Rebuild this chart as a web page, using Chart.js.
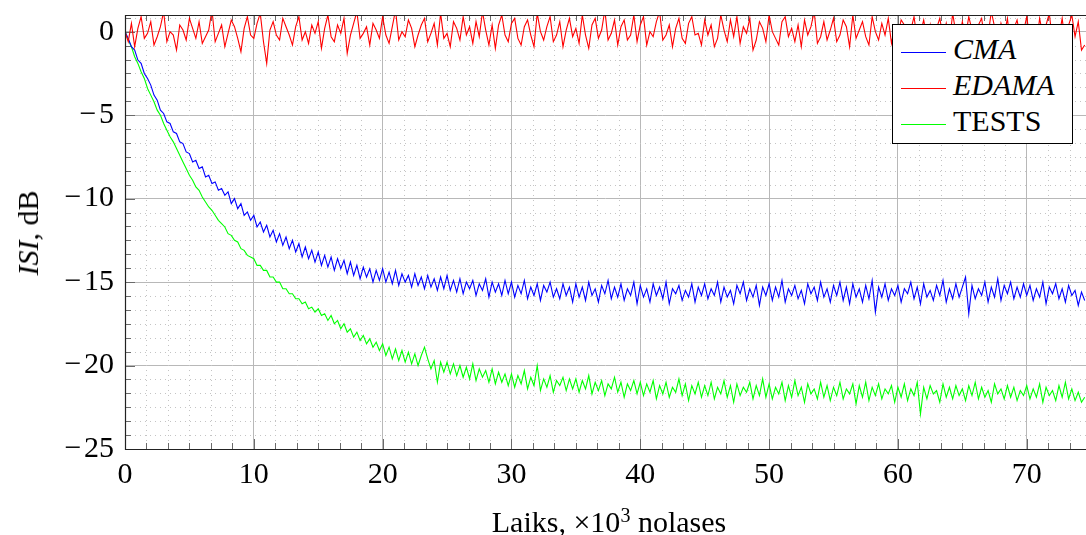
<!DOCTYPE html>
<html>
<head>
<meta charset="utf-8">
<script src="https://cdn.jsdelivr.net/npm/chart.js@4.4.0/dist/chart.umd.min.js"></script>
<style>
  html, body { margin: 0; padding: 0; background: #fff; }
  #wrap { position: relative; width: 1086px; height: 535px; overflow: hidden; font-family: "Liberation Serif", "Times New Roman", serif; color: #000; }
  #chart { position: absolute; left: 0; top: 0; }
  .legend { position: absolute; left: 892px; top: 24px; width: 181px; height: 120px; background: #fff; border: 1px solid #000; box-sizing: border-box; font-size: 30px; }
  .legend .row { position: absolute; left: 8px; height: 36px; line-height: 36px; white-space: nowrap; }
  .legend .ln { display: inline-block; width: 45px; height: 0; border-top: 1px solid; vertical-align: middle; margin-right: 7px; }
  .ylab { position: absolute; left: 28px; top: 233px; transform: translate(-50%, -50%) rotate(-90deg); font-size: 30px; line-height: 32px; white-space: nowrap; }
  .xlab { position: absolute; left: 609px; top: 507px; transform: translateX(-50%); font-size: 30px; line-height: 30px; white-space: nowrap; }
  .xlab sup { font-size: 20px; vertical-align: 10px; line-height: 0; }
</style>
</head>
<body>
<div id="wrap">
  <canvas id="chart" width="1086" height="535"></canvas>
  <div class="legend">
    <div class="row" style="top:6px"><span class="ln" style="border-color:#0000ff"></span><i>CMA</i></div>
    <div class="row" style="top:42px"><span class="ln" style="border-color:#ff0000"></span><i>EDAMA</i></div>
    <div class="row" style="top:78px"><span class="ln" style="border-color:#00ff00"></span>TESTS</div>
  </div>
  <div class="ylab"><i>ISI</i>, dB</div>
  <div class="xlab">Laiks, ×10<sup>3</sup> nolases</div>
</div>
<script>
// samples every 0.25 (x10^3 samples)
const sampleStep = 0.25;

const edamaValues = [
  0.0, -0.6, 0.5, -0.9, 0.2, 0.9, -0.4, -0.1, 0.6, -0.8, -0.3, 0.3, 1.2, -0.6, 0.0, -0.2, -1.1, 0.4, 0.1, -0.5,
  0.8, 0.2, -0.4, 0.6, -0.7, -0.3, 0.1, 1.3, -0.6, -0.1, 0.4, -0.9, -0.1, 0.7, 0.3, -0.4, -1.2, 0.2, 0.9, -0.2,
  -0.4, 0.5, 1.1, -0.6, -1.9, 0.1, 0.6, -0.2, -0.5, 0.8, 0.3, -0.2, -0.8, 0.3, 0.9, -0.5, 0.0, -0.7, 0.4, -0.1,
  0.6, -1.0, 0.2, 1.0, -0.3, -0.6, 0.4, -0.1, 0.8, -1.3, -0.2, 0.5, 1.2, -0.4, -0.1, 0.3, -0.8, 0.5, 0.1, -0.4,
  0.9, -0.2, -0.7, 0.3, 1.3, -0.5, 0.0, -0.3, 0.7, 0.2, -0.9, -0.2, 0.4, 0.8, -0.6, -0.1, 0.5, -0.8, 1.1, -0.4,
  -0.1, -0.9, 0.6, 0.2, -0.5, 0.9, -0.2, 0.3, -0.7, 0.6, -0.3, 1.2, 0.1, -0.8, 0.4, -1.0, 0.4, 1.0, -0.2, -0.6,
  0.5, 0.8, -0.4, -0.8, 0.3, 0.7, -0.2, -0.9, 1.1, 0.0, -0.5, 0.3, 0.9, -0.6, -0.2, 0.6, -0.9, 0.1, 0.8, -0.3,
  0.2, -0.7, 1.0, -0.2, -1.0, 0.4, 0.8, -0.4, 0.1, 1.3, -0.5, -0.1, 0.7, -0.8, 0.3, 0.7, -0.5, -0.2, 1.0, -0.6,
  0.4, 0.9, -0.8, 0.0, -0.3, 0.6, 1.2, -0.5, -0.2, 0.4, -0.9, 0.2, 0.8, -0.4, -0.7, 0.5, 0.9, -0.2, -0.1, -0.8,
  0.7, -0.2, 0.4, -0.9, -0.4, 1.0, 0.1, -0.6, 0.7, -0.3, 0.9, -0.7, 0.3, -0.1, 0.8, -1.1, -0.5, 0.6, 0.2, -0.6,
  1.0, 0.0, -0.4, -0.8, 0.6, 0.9, -0.3, 0.2, -0.6, 0.4, -0.9, 0.7, -0.2, 0.3, 1.2, -0.7, -0.3, 0.6, -0.5, 0.1,
  0.8, -0.6, -0.2, 0.7, 0.3, -0.9, 1.0, -0.4, 0.1, 0.6, -0.3, -0.8, 0.9, 0.0, -0.5, 0.5, -0.2, 0.8, -0.7, 0.3,
  -0.2, 0.7, 0.4, -1.0, 0.1, 0.9, -0.5, -0.1, 0.7, -0.4, 0.4, -1.8, 0.2, 0.8, -0.3, 0.5, -0.7, 1.1, -0.1, -0.5,
  0.6, -0.3, 0.9, 0.1, -0.9, 0.4, 0.8, -0.6, -0.2, 1.2, 0.3, -0.7, 0.5, -0.2, 0.8, -1.0, 0.2, 0.7, -0.4, 0.0,
  0.9, -0.5, 0.3, -0.8, 0.8, -0.2, 0.4, 1.1, -0.6, 0.0, -0.3, 0.8, -0.7, 0.4, 1.0, -0.3, 0.6, -1.1, -0.8
];

const cmaValues = [
  0.0, -0.4, -0.9, -1.1, -1.7, -1.9, -2.5, -2.8, -3.2, -3.8, -4.1, -4.7, -4.9, -5.4, -5.5, -6.0, -6.1, -6.6, -6.7, -7.2,
  -7.3, -7.8, -7.7, -8.2, -8.1, -8.7, -8.6, -9.1, -9.0, -9.5, -9.4, -9.8, -9.6, -10.3, -10.0, -10.6, -10.3, -11.0, -10.8, -11.3,
  -11.0, -11.7, -11.4, -12.0, -11.6, -12.3, -11.9, -12.6, -12.1, -12.8, -12.3, -13.0, -12.5, -13.2, -12.7, -13.5, -12.9, -13.6, -13.1, -13.8,
  -13.2, -14.0, -13.4, -14.1, -13.5, -14.3, -13.6, -14.2, -13.7, -14.5, -13.8, -14.6, -14.0, -14.8, -14.1, -14.7, -14.2, -15.0, -14.3, -14.9,
  -14.2, -15.0, -14.4, -15.1, -14.3, -15.2, -14.5, -15.0, -14.6, -15.3, -14.5, -15.2, -14.7, -15.4, -14.6, -15.3, -14.8, -15.5, -14.7, -15.4,
  -14.6, -15.5, -14.9, -15.6, -14.8, -15.7, -15.0, -15.4, -14.9, -15.8, -15.1, -15.5, -14.8, -15.9, -15.0, -15.6, -15.1, -15.8, -14.9, -15.7,
  -15.0, -15.9, -15.2, -15.7, -14.9, -16.0, -15.3, -15.8, -15.1, -16.1, -15.2, -15.6, -15.0, -15.9, -15.4, -16.0, -15.1, -15.8, -15.3, -16.2,
  -15.1, -15.9, -15.3, -16.1, -15.0, -15.8, -15.4, -16.2, -15.2, -15.7, -14.9, -16.0, -15.3, -15.9, -15.1, -16.1, -15.4, -15.8, -15.0, -16.3,
  -15.2, -15.9, -15.4, -16.2, -15.1, -15.8, -15.3, -16.0, -15.0, -16.3, -15.4, -15.7, -15.2, -16.1, -15.5, -15.9, -15.1, -16.2, -15.3, -15.8,
  -15.1, -16.0, -15.4, -15.8, -15.0, -16.2, -15.3, -15.9, -15.5, -16.3, -15.2, -15.7, -15.0, -16.1, -15.4, -15.9, -15.2, -16.4, -15.3, -15.8,
  -15.1, -16.1, -15.3, -15.9, -14.9, -16.2, -15.4, -15.8, -15.2, -16.0, -15.5, -16.3, -15.1, -15.7, -15.3, -16.1, -15.0, -15.9, -15.4, -16.2,
  -15.2, -15.8, -15.0, -16.1, -15.3, -16.3, -15.1, -15.9, -15.4, -16.2, -15.2, -16.0, -14.9, -16.8, -15.3, -15.9, -15.1, -16.1, -15.4, -15.8,
  -15.2, -16.2, -15.4, -15.7, -15.0, -16.0, -15.3, -16.3, -15.1, -15.9, -15.5, -16.1, -15.2, -15.8, -14.9, -16.2, -15.4, -16.0, -15.1, -15.9,
  -15.3, -14.7, -16.9, -15.2, -16.0, -15.4, -15.8, -15.0, -16.2, -15.3, -15.9, -14.8, -16.1, -15.2, -15.7, -15.0, -16.0, -15.3, -15.9, -15.1,
  -15.8, -15.2, -16.1, -15.4, -15.9, -15.0, -16.3, -15.3, -15.7, -15.1, -16.0, -15.4, -16.2, -15.2, -15.8, -15.5, -16.4, -15.6, -16.1
];

const testsValues = [
  0.0, -0.5, -0.9, -1.5, -1.9, -2.4, -2.8, -3.4, -3.8, -4.2, -4.7, -5.0, -5.5, -5.9, -6.3, -6.6, -7.0, -7.4, -7.8, -8.2,
  -8.6, -8.9, -9.3, -9.5, -9.9, -10.2, -10.5, -10.7, -11.0, -11.3, -11.5, -11.7, -12.1, -12.2, -12.5, -12.6, -13.0, -13.1, -13.4, -13.5,
  -13.6, -14.0, -14.0, -14.3, -14.3, -14.7, -14.7, -15.0, -15.0, -15.4, -15.4, -15.7, -15.7, -16.0, -16.0, -16.3, -16.2, -16.6, -16.5, -16.8,
  -16.6, -17.0, -16.9, -17.3, -17.0, -17.5, -17.3, -17.8, -17.5, -18.0, -17.8, -18.3, -18.0, -18.5, -18.2, -18.7, -18.4, -18.9, -18.6, -19.1,
  -18.7, -19.4, -18.9, -19.6, -19.0, -19.7, -19.1, -19.8, -19.2, -19.9, -19.3, -20.0, -19.4, -18.9, -19.6, -20.2, -19.7, -21.0, -19.8, -20.4,
  -19.8, -20.5, -19.9, -20.6, -20.0, -20.7, -20.1, -20.8, -19.9, -20.9, -20.2, -20.7, -20.3, -21.0, -20.2, -21.1, -20.4, -21.0, -20.5, -21.2,
  -20.5, -21.3, -20.6, -21.1, -20.3, -21.4, -20.7, -21.2, -20.0, -21.5, -20.8, -21.3, -20.6, -21.6, -20.9, -21.2, -20.7, -21.5, -20.8, -21.4,
  -20.8, -21.6, -20.9, -21.4, -20.6, -21.7, -21.0, -21.5, -20.9, -21.8, -21.1, -21.4, -20.7, -21.6, -21.0, -21.9, -21.1, -21.5, -20.9, -21.7,
  -21.0, -21.8, -21.1, -21.6, -20.9, -22.0, -21.2, -21.7, -21.0, -21.9, -21.3, -21.6, -20.8, -21.8, -21.1, -22.1, -21.2, -21.7, -21.0, -21.9,
  -21.2, -21.8, -21.0, -22.0, -21.3, -21.7, -20.9, -21.9, -21.2, -22.2, -21.1, -21.8, -21.3, -21.6, -21.0, -22.0, -21.2, -21.8, -20.8, -21.9,
  -21.1, -22.0, -21.3, -21.7, -21.0, -22.1, -21.2, -21.9, -20.9, -21.8, -21.3, -22.2, -21.1, -21.7, -21.4, -22.0, -21.0, -21.9, -21.2, -22.1,
  -21.3, -21.8, -21.0, -22.0, -21.4, -21.7, -21.1, -22.3, -21.2, -21.9, -21.0, -22.1, -21.3, -21.8, -21.1, -22.0, -21.4, -21.7, -21.2, -22.2,
  -21.3, -21.9, -21.1, -22.1, -21.4, -21.8, -21.0, -22.9, -21.3, -22.0, -21.2, -21.7, -21.5, -22.2, -21.1, -21.9, -21.3, -22.0, -21.2, -21.8,
  -21.4, -22.1, -21.2, -21.8, -21.0, -22.0, -21.3, -21.9, -21.5, -22.2, -21.1, -21.7, -21.4, -22.0, -21.2, -21.9, -21.3, -22.1, -21.5, -21.8,
  -21.2, -22.0, -21.4, -21.9, -21.1, -22.2, -21.3, -21.8, -21.5, -22.1, -21.2, -21.9, -21.0, -22.0, -21.4, -22.1, -21.6, -22.2, -21.9
];

const xMin = 0, xMax = 74.6, xStep = 10, xMinorPerMajor = 6;
const yMin = -25, yMax = 1, yStep = 5, yMinorPerMajor = 6;

const FONT = '"Liberation Serif", "Times New Roman", serif';

function toPoints(vals) {
  return vals.map(function(v, i) { return { x: i * sampleStep, y: v }; });
}

// minor dotted grid, inward tick marks, axis frame (pgfplots look)
const axisDecor = {
  id: 'axisDecor',
  beforeDatasetsDraw(chart) {
    const ctx = chart.ctx, a = chart.chartArea, xs = chart.scales.x, ys = chart.scales.y;
    const xm = xStep / xMinorPerMajor, ym = yStep / yMinorPerMajor;
    ctx.save();
    ctx.lineWidth = 1;
    ctx.strokeStyle = '#c4c4c4';
    ctx.setLineDash([1, 4]);
    ctx.beginPath();
    for (let i = 1; i * xm < xMax; i++) {
      if (i % xMinorPerMajor === 0) continue;
      const px = Math.round(xs.getPixelForValue(i * xm)) + 0.5;
      ctx.moveTo(px, a.top); ctx.lineTo(px, a.bottom);
    }
    for (let i = 1; yMin + i * ym <= yMax; i++) {
      if (i % yMinorPerMajor === 0) continue;
      const py = Math.round(ys.getPixelForValue(yMin + i * ym)) + 0.5;
      ctx.moveTo(a.left, py); ctx.lineTo(a.right, py);
    }
    ctx.stroke();
    ctx.setLineDash([]);
    // tick marks
    ctx.strokeStyle = '#6a6a6a';
    ctx.beginPath();
    for (let i = 0; i * xm < xMax; i++) {
      const len = i % xMinorPerMajor === 0 ? 10 : 6;
      const px = Math.round(xs.getPixelForValue(i * xm)) + 0.5;
      ctx.moveTo(px, a.bottom); ctx.lineTo(px, a.bottom - len);
      ctx.moveTo(px, a.top); ctx.lineTo(px, a.top + len);
    }
    for (let i = 0; yMin + i * ym <= yMax; i++) {
      const len = i % yMinorPerMajor === 0 ? 10 : 6;
      const py = Math.round(ys.getPixelForValue(yMin + i * ym)) + 0.5;
      ctx.moveTo(a.left, py); ctx.lineTo(a.left + len, py);
    }
    ctx.stroke();
    ctx.restore();
  },
  afterDatasetsDraw(chart) {
    const ctx = chart.ctx, a = chart.chartArea;
    ctx.save();
    ctx.strokeStyle = '#222';
    ctx.lineWidth = 1.2;
    ctx.beginPath();
    ctx.moveTo(a.right + 1, a.top + 0.5);
    ctx.lineTo(a.left + 0.5, a.top + 0.5);
    ctx.lineTo(a.left + 0.5, a.bottom + 0.5);
    ctx.lineTo(a.right + 1, a.bottom + 0.5);
    ctx.stroke();
    ctx.restore();
  }
};

new Chart(document.getElementById('chart'), {
  type: 'line',
  data: {
    datasets: [
      { label: 'EDAMA', data: toPoints(edamaValues), borderColor: '#ff0000' },
      { label: 'CMA', data: toPoints(cmaValues), borderColor: '#0000ff' },
      { label: 'TESTS', data: toPoints(testsValues), borderColor: '#00ff00' }
    ]
  },
  options: {
    responsive: false,
    animation: false,
    events: [],
    layout: { padding: { top: 15, right: 0, left: 0, bottom: 0 } },
    elements: {
      line: { borderWidth: 1.1, tension: 0, fill: false },
      point: { radius: 0 }
    },
    plugins: { legend: { display: false }, tooltip: { enabled: false } },
    scales: {
      x: {
        type: 'linear', min: xMin, max: xMax,
        afterFit: function(s) { s.height = 86; s.paddingLeft = 0; s.paddingRight = 0; },
        border: { display: false },
        grid: { color: '#b8b8b8', lineWidth: 1, drawTicks: false },
        ticks: { stepSize: xStep, includeBounds: false, padding: 8, maxRotation: 0, color: '#000', font: { family: FONT, size: 30 } }
      },
      y: {
        type: 'linear', min: yMin, max: yMax,
        afterFit: function(s) { s.width = 125; s.paddingTop = 0; s.paddingBottom = 0; },
        border: { display: false },
        grid: { color: '#b8b8b8', lineWidth: 1, drawTicks: false },
        ticks: {
          stepSize: yStep, includeBounds: false, padding: 11, color: '#000', font: { family: FONT, size: 30 },
          callback: function(v) { return v < 0 ? '\u2212\u200a' + Math.abs(v) : String(v); }
        }
      }
    }
  },
  plugins: [axisDecor]
});
</script>
</body>
</html>
